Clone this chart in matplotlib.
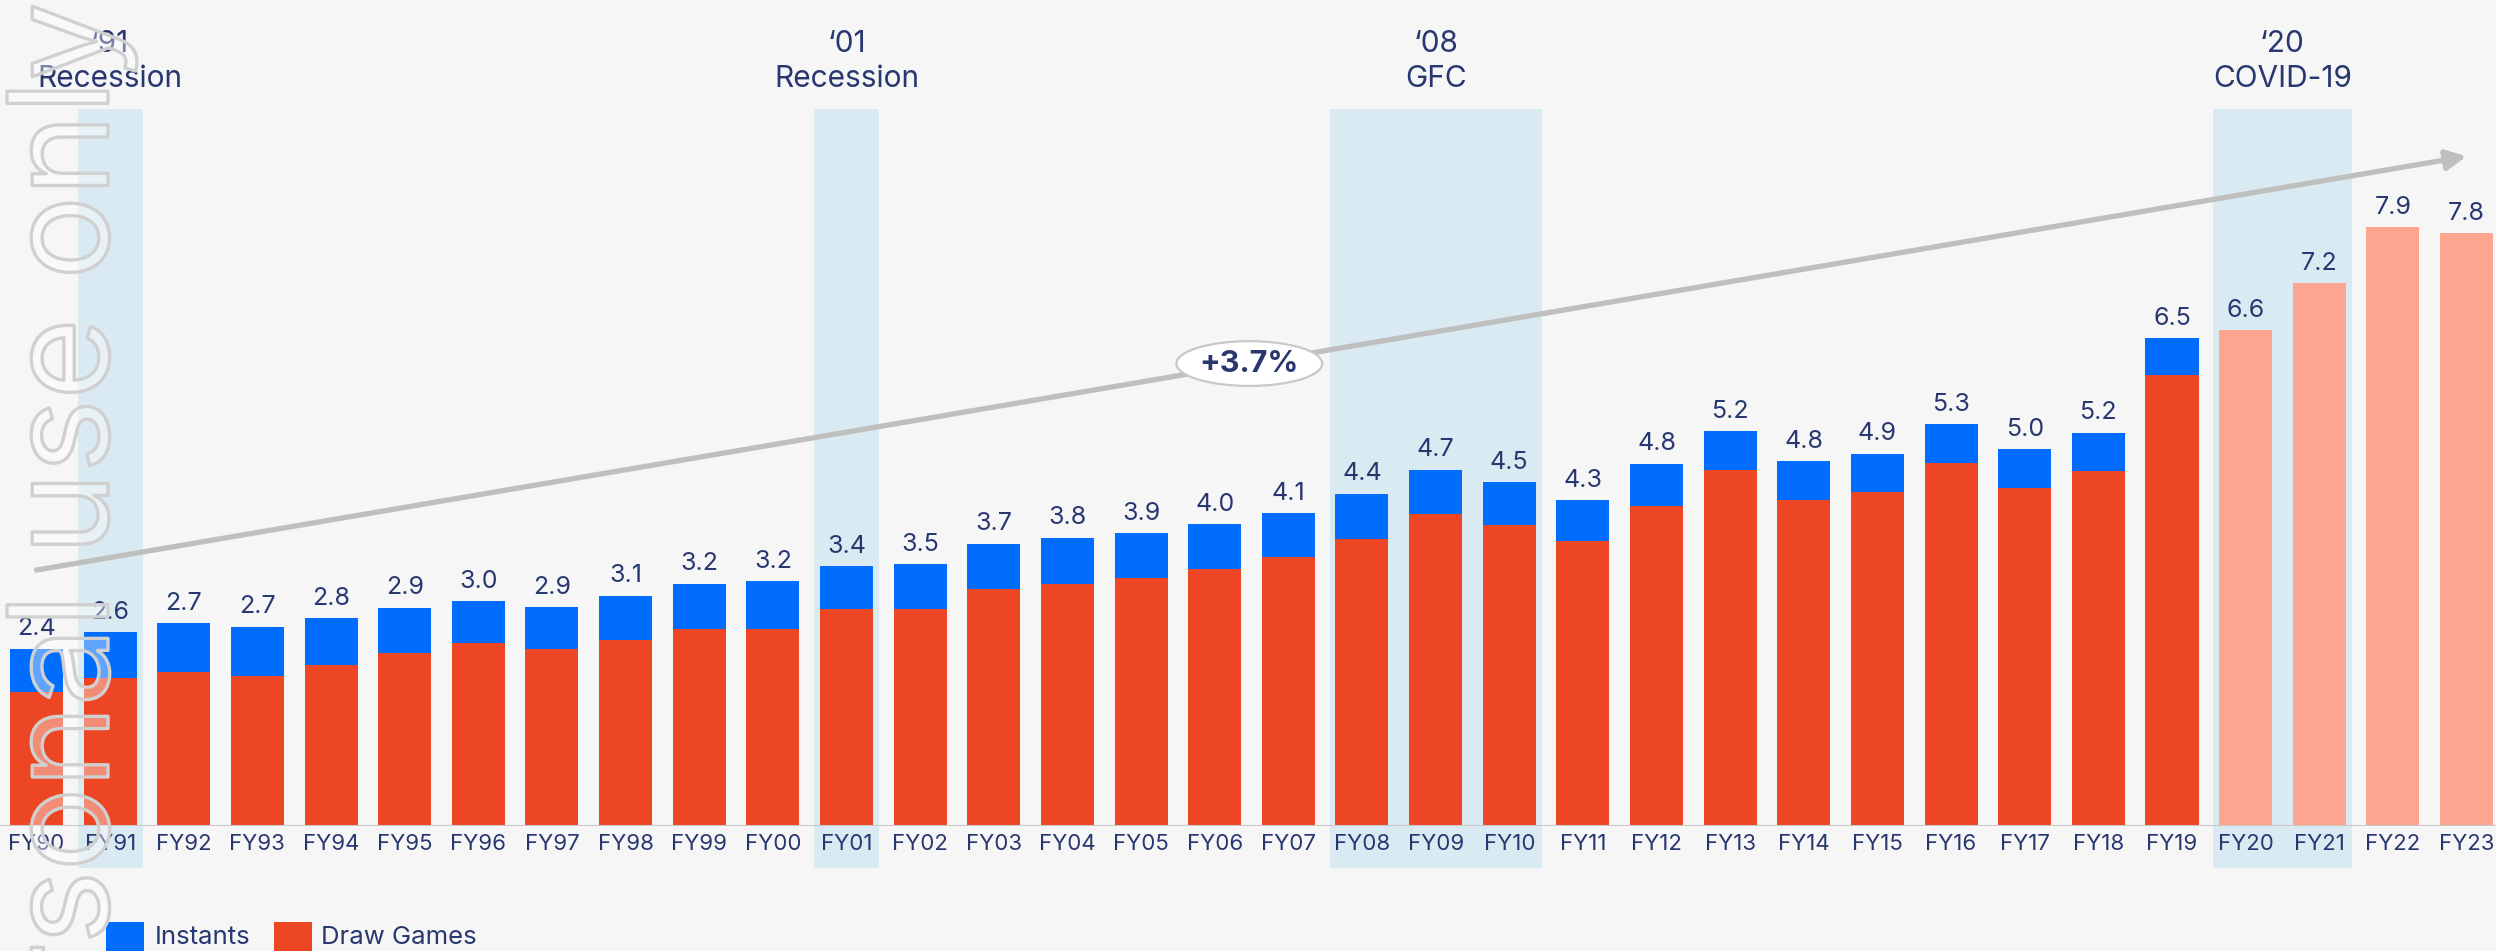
import matplotlib
matplotlib.use("Agg")
import matplotlib.pyplot as plt
from matplotlib.patches import Rectangle
import matplotlib.patheffects as pe

# ---------------- data ----------------
years = ["FY90", "FY91", "FY92", "FY93", "FY94", "FY95", "FY96", "FY97", "FY98", "FY99",
         "FY00", "FY01", "FY02", "FY03", "FY04", "FY05", "FY06", "FY07", "FY08", "FY09",
         "FY10", "FY11", "FY12", "FY13", "FY14", "FY15", "FY16", "FY17", "FY18", "FY19",
         "FY20", "FY21", "FY22", "FY23"]

draw_games = [1.78, 1.96, 2.04, 1.99, 2.13, 2.29, 2.43, 2.35, 2.47, 2.61,
              2.61, 2.87, 2.87, 3.14, 3.21, 3.28, 3.41, 3.56, 3.80, 4.13,
              3.99, 3.77, 4.24, 4.72, 4.32, 4.43, 4.81, 4.48, 4.70, 5.97]
instants = [0.57, 0.61, 0.65, 0.65, 0.62, 0.60, 0.55, 0.55, 0.58, 0.60,
            0.63, 0.57, 0.60, 0.60, 0.61, 0.60, 0.59, 0.58, 0.60, 0.59,
            0.56, 0.55, 0.56, 0.51, 0.51, 0.50, 0.51, 0.51, 0.51, 0.49]
recent_total = [6.57, 7.19, 7.93, 7.85]          # FY20-FY23 (no split shown)

total_labels = ["2.4", "2.6", "2.7", "2.7", "2.8", "2.9", "3.0", "2.9", "3.1", "3.2",
                "3.2", "3.4", "3.5", "3.7", "3.8", "3.9", "4.0", "4.1", "4.4", "4.7",
                "4.5", "4.3", "4.8", "5.2", "4.8", "4.9", "5.3", "5.0", "5.2", "6.5",
                "6.6", "7.2", "7.9", "7.8"]

events = [("‘91", "Recession", 1, 1),
          ("‘01", "Recession", 11, 11),
          ("‘08", "GFC", 18, 20),
          ("‘20", "COVID-19", 30, 31)]

cagr_label = "+3.7%"
trend_start = (0, 3.39)
trend_end = (33, 8.87)

series_names = ["Instants", "Draw Games"]

# ---------------- style ----------------
BG = "#F6F6F6"
BLUE = "#006DFF"
RED = "#EC4624"
SALMON = "#FEA590"
BAND = "#DAEAF2"
NAVY = "#283770"
GREY = "#BFBFBF"

plt.rcParams["font.family"] = ["Inter", "DejaVu Sans"]

W, H = 2496, 951
fig = plt.figure(figsize=(W / 100, H / 100), dpi=100, facecolor=BG)

ax_bottom = (H - 826) / H
ax_top = (H - 109) / H
ax = fig.add_axes([0, ax_bottom, 1, ax_top - ax_bottom])
ax.set_facecolor("none")

n_split = len(draw_games)
x_split = list(range(n_split))
x_recent = list(range(n_split, len(years)))

bw = 0.72
ax.bar(x_split, draw_games, width=bw, color=RED, zorder=2)
b_inst = ax.bar(x_split, instants, bottom=draw_games, width=bw, color=BLUE, zorder=2)
b_rec = ax.bar(x_recent, recent_total, width=bw, color=SALMON, zorder=2)

ax.bar_label(b_inst, labels=total_labels[:n_split], padding=6, fontsize=18, color=NAVY)
ax.bar_label(b_rec, labels=total_labels[n_split:], padding=6, fontsize=18, color=NAVY)

ax.set_xlim(-0.496, 33.40)
ax.set_ylim(0, 717 / 75.5)

# recession bands
band_low = -(868 - 826) / 717
tr = matplotlib.transforms.blended_transform_factory(ax.transData, fig.transFigure)
for top, bottom, i0, i1 in events:
    ax.add_patch(Rectangle((i0 - 0.44, band_low), (i1 - i0) + 0.88, 1 - band_low,
                           transform=ax.get_xaxis_transform(), color=BAND,
                           zorder=0, clip_on=False, lw=0))
    xc = (i0 + i1) / 2
    ax.text(xc, 1 - 44 / H, top, transform=tr, ha="center", va="center",
            fontsize=21.5, color=NAVY)
    ax.text(xc, 1 - 79 / H, bottom, transform=tr, ha="center", va="center",
            fontsize=21.5, color=NAVY)

# baseline
ax.axhline(0, color="#C8C8C8", lw=2.2, zorder=3)

# axes styling
for s in ax.spines.values():
    s.set_visible(False)
ax.set_yticks([])
ax.set_xticks(range(len(years)))
ax.set_xticklabels(years, fontsize=16, color=NAVY)
ax.tick_params(axis="x", length=0, pad=6)

# trend arrow
ax.annotate("", xy=trend_end, xytext=trend_start,
            arrowprops=dict(arrowstyle="-|>,head_length=1.2,head_width=0.6",
                            lw=3.8, color=GREY, shrinkA=0, shrinkB=0),
            zorder=3)
mx = 16.47
my = trend_start[1] + (trend_end[1] - trend_start[1]) * (mx - trend_start[0]) / (trend_end[0] - trend_start[0])
ax.text(mx, my, cagr_label, ha="center", va="center", fontsize=22, fontweight="bold",
        color=NAVY, zorder=5,
        bbox=dict(boxstyle="ellipse,pad=0.06", fc="white", ec="#C8C8C8", lw=1.6))

# legend
for (x0, x1), color, label, tx in [((106, 144), BLUE, series_names[0], 155),
                                   ((274, 312), RED, series_names[1], 321)]:
    fig.patches.append(Rectangle((x0 / W, 0), (x1 - x0) / W, (H - 922) / H,
                                 transform=fig.transFigure, color=color, lw=0))
    fig.text(tx / W, 1 - 937 / H, label, ha="left", va="center", fontsize=18.5, color=NAVY)

# watermark
fig.text(108 / W, 1 - 2 / H, "Personal use only", rotation=90, rotation_mode="anchor",
         ha="right", va="baseline", fontsize=100, fontweight="normal",
         color=(1, 1, 1, 0.38), zorder=20,
         path_effects=[pe.Stroke(linewidth=2.4, foreground="#D0D0D0")])

fig.savefig("out.png", dpi=100, facecolor=BG)
